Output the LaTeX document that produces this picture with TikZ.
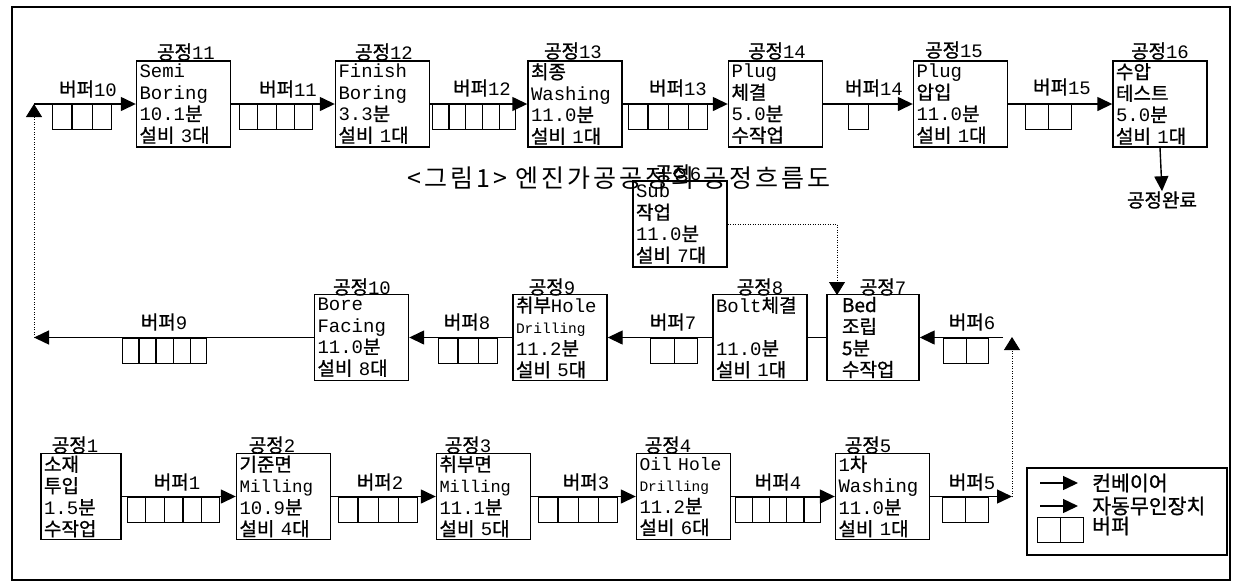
\documentclass[tikz,border=0pt]{standalone}
\usepackage{fontspec}
\setmainfont{Liberation Mono}
\newfontfamily\hk[FakeBold=1.0]{Noto Sans CJK KR}
\newfontfamily\hkt[LetterSpace=12]{Noto Sans CJK KR}
\usetikzlibrary{arrows.meta,calc}

\newcommand\buf[5]{% name, x, ytop, cells, width
  \node[bufbox, minimum width=#5pt, anchor=north west] (#1) at (#2,#3) {};
  \ifnum#4>1
    \foreach \i in {2,...,#4}{%
      \pgfmathsetmacro\fr{(\i-1)/#4}%
      \draw[bufline] ($(#1.north west)!\fr!(#1.north east)$) -- ($(#1.south west)!\fr!(#1.south east)$);
    }%
  \fi
}

\begin{document}
\begin{tikzpicture}[x=1pt,y=-1pt,
  frame/.style={line width=2pt},
  proc/.style={draw, line width=1.4pt, minimum width=94pt, minimum height=86pt,
    text width=88pt, inner xsep=3pt, inner ysep=0pt, align=left,
    font=\fontsize{19}{21.5}\selectfont},
  lbl/.style={inner sep=0pt, font=\fontsize{19}{21}\selectfont},
  bufbox/.style={draw, line width=1.3pt, minimum height=25pt, inner sep=0pt},
  bufline/.style={line width=1.3pt},
  conv/.style={line width=1.4pt, -{Triangle[length=15pt,width=14pt]}},
  plain/.style={line width=1.4pt},
  link/.style={line width=0.8pt, dash pattern=on 1pt off 1.5pt, -{Triangle[length=13pt,width=16pt]}},
  legt/.style={inner sep=0pt, anchor=west, font=\hk\fontsize{20.5}{22}\selectfont}]
\useasboundingbox (0,0) rectangle (1236,582);
\draw[frame] (12,7) rectangle (1230,580);

% title
\node[inner sep=0pt, font=\hkt\fontsize{25}{28}\selectfont] (title) at (619,178) {<그림1> 엔진가공공정의 공정흐름도};

% ---------- top row ----------
\node[proc] (p11) at (183.5,104) {Semi\\Boring\\10.1{\hk 분}\\{\hk 설비} 3{\hk 대}};
\node[proc] (p12) at (382.5,104) {Finish\\Boring\\3.3{\hk 분}\\{\hk 설비} 1{\hk 대}};
\node[proc] (p13) at (575,104) {{\hk 최종}\\Washing\\11.0{\hk 분}\\{\hk 설비} 1{\hk 대}};
\node[proc] (p14) at (775.5,104) {Plug\\{\hk 체결}\\5.0{\hk 분}\\{\hk 수작업}};
\node[proc] (p15) at (960.5,104) {Plug\\{\hk 압입}\\11.0{\hk 분}\\{\hk 설비} 1{\hk 대}};
\node[proc] (p16) at (1160,104) {{\hk 수압}\\{\hk 테스트}\\5.0{\hk 분}\\{\hk 설비} 1{\hk 대}};

\node[lbl] (l11) at (186,52) {{\hk 공정}11};
\node[lbl] (l12) at (384,52) {{\hk 공정}12};
\node[lbl] (l13) at (573,51) {{\hk 공정}13};
\node[lbl] (l14) at (777,51) {{\hk 공정}14};
\node[lbl] (l15) at (954,50) {{\hk 공정}15};
\node[lbl] (l16) at (1160,51) {{\hk 공정}16};

\buf{b10}{52}{104}{3}{59}
\buf{b11}{239}{104}{4}{73}
\buf{b12}{432}{104}{5}{83}
\buf{b13}{628}{104}{4}{79}
\buf{b14}{848}{104}{1}{20}
\buf{b15}{1025}{104}{2}{46}

\node[lbl] (lb10) at (88,89) {{\hk 버퍼}10};
\node[lbl] (lb11) at (288,89) {{\hk 버퍼}11};
\node[lbl] (lb12) at (482,88) {{\hk 버퍼}12};
\node[lbl] (lb13) at (678,88) {{\hk 버퍼}13};
\node[lbl] (lb14) at (874,88) {{\hk 버퍼}14};
\node[lbl] (lb15) at (1062,87) {{\hk 버퍼}15};

\coordinate (s10) at (34,104);
\draw[conv] (s10) -- (p11.west);
\draw[conv] (p11.east) -- (p12.west);
\draw[conv] (p12.east) -- (p13.west);
\draw[conv] (p13.east) -- (p14.west);
\draw[conv] (p14.east) -- (p15.west);
\draw[conv] (p15.east) -- (p16.west);

\node[inner sep=0pt, font=\hk\fontsize{19}{21}\selectfont] (done) at (1162,200) {공정완료};
\draw[conv] (p16.south) -- (done.north);

% ---------- middle row ----------
\node[proc] (p6) at (680,224) {Sub\\{\hk 작업}\\11.0{\hk 분}\\{\hk 설비} 7{\hk 대}};
\node[lbl] (l6) at (678,173) {{\hk 공정}6};

\node[proc, minimum width=92pt, text width=62pt, inner xsep=15pt, font=\hk\fontsize{19}{21.5}\selectfont] (p7) at (873,337.5) {Bed\\조립\\5분\\수작업};
\node[proc] (p8) at (760,337.5) {Bolt{\hk 체결}\\\mbox{}\\11.0{\hk 분}\\{\hk 설비} 1{\hk 대}};
\node[proc] (p9) at (560,337.5) {{\hk 취부}Hole\\{\fontsize{14.5}{21.5}\selectfont Drilling}\\11.2{\hk 분}\\{\hk 설비} 5{\hk 대}};
\node[proc] (p10) at (361.5,337.5) {Bore\\Facing\\11.0{\hk 분}\\{\hk 설비} 8{\hk 대}};

\node[lbl] (l7) at (883,287) {{\hk 공정}7};
\node[lbl] (l8) at (760,287) {{\hk 공정}8};
\node[lbl] (l9) at (552,287) {{\hk 공정}9};
\node[lbl] (l10) at (362,287) {{\hk 공정}10};

\buf{b6}{943}{337.5}{2}{45}
\buf{b7}{650}{337.5}{2}{47}
\buf{b8}{438}{337.5}{3}{59}
\buf{b9}{122}{337.5}{5}{84}

\node[lbl] (lb6) at (972,322) {{\hk 버퍼}6};
\node[lbl] (lb7) at (673,322) {{\hk 버퍼}7};
\node[lbl] (lb8) at (467,322) {{\hk 버퍼}8};
\node[lbl] (lb9) at (164,322) {{\hk 버퍼}9};

\coordinate (e6) at (1003,337.5);
\coordinate (t7) at (837,295);
\coordinate (c9) at (34,337.5);
\draw[conv] (e6) -- (p7.east);
\draw[plain] (p7.west) -- (p8.east);
\draw[conv] (p8.west) -- (p9.east);
\draw[conv] (p9.west) -- (p10.east);
\draw[conv] (p10.west) -- (c9);
\draw[link] (c9) -- (s10);
\draw[link] (p6.east) -| (t7);

% ---------- bottom row ----------
\node[proc, minimum width=80pt, text width=74pt] (p1) at (81,496.5) {{\hk 소재}\\{\hk 투입}\\1.5{\hk 분}\\{\hk 수작업}};
\node[proc] (p2) at (283.5,496.5) {{\hk 기준면}\\{\fontsize{17.5}{21.5}\selectfont Milling}\\10.9{\hk 분}\\{\hk 설비} 4{\hk 대}};
\node[proc] (p3) at (483.5,496.5) {{\hk 취부면}\\{\fontsize{17}{21.5}\selectfont Milling}\\11.1{\hk 분}\\{\hk 설비} 5{\hk 대}};
\node[proc] (p4) at (683.5,496.5) {{\fontsize{18}{21.5}\selectfont Oil Hole}\\{\fontsize{14.5}{21.5}\selectfont Drilling}\\11.2{\hk 분}\\{\hk 설비} 6{\hk 대}};
\node[proc] (p5) at (882.5,496.5) {1{\hk 차}\\Washing\\11.0{\hk 분}\\{\hk 설비} 1{\hk 대}};

\node[lbl] (l1) at (75,445) {{\hk 공정}1};
\node[lbl] (l2) at (272,445) {{\hk 공정}2};
\node[lbl] (l3) at (468,445) {{\hk 공정}3};
\node[lbl] (l4) at (668,445) {{\hk 공정}4};
\node[lbl] (l5) at (868,445) {{\hk 공정}5};

\buf{b1}{127}{496.5}{5}{92}
\buf{b2}{338}{496.5}{4}{79}
\buf{b3}{538}{496.5}{4}{79}
\buf{b4}{735}{496.5}{5}{85}
\buf{b5}{942}{496.5}{2}{46}

\node[lbl] (lb1) at (177,482) {{\hk 버퍼}1};
\node[lbl] (lb2) at (380,482) {{\hk 버퍼}2};
\node[lbl] (lb3) at (586,482) {{\hk 버퍼}3};
\node[lbl] (lb4) at (778,482) {{\hk 버퍼}4};
\node[lbl] (lb5) at (972,482) {{\hk 버퍼}5};

\coordinate (c5) at (1012,496.5);
\coordinate (s6) at (1012,337);
\draw[conv] (p1.east) -- (p2.west);
\draw[conv] (p2.east) -- (p3.west);
\draw[conv] (p3.east) -- (p4.west);
\draw[conv] (p4.east) -- (p5.west);
\draw[conv] (p5.east) -- (c5);
\draw[link] (c5) -- (s6);

% ---------- legend ----------
\node[draw, line width=1.4pt, minimum width=200pt, minimum height=87pt, inner sep=0pt] (leg) at (1127,511.5) {};
\coordinate (la1) at (1040,483);
\coordinate (la1e) at (1078,483);
\coordinate (la2) at (1040,506);
\coordinate (la2e) at (1078,506);
\draw[conv] (la1) -- (la1e);
\draw[conv] (la2) -- (la2e);
\buf{lbf}{1037}{517}{2}{46}
\node[legt] (lt1) at (1092,483) {컨베이어};
\node[legt] (lt2) at (1092,506) {자동무인장치};
\node[legt] (lt3) at (1092,526) {버퍼};
\end{tikzpicture}
\end{document}
